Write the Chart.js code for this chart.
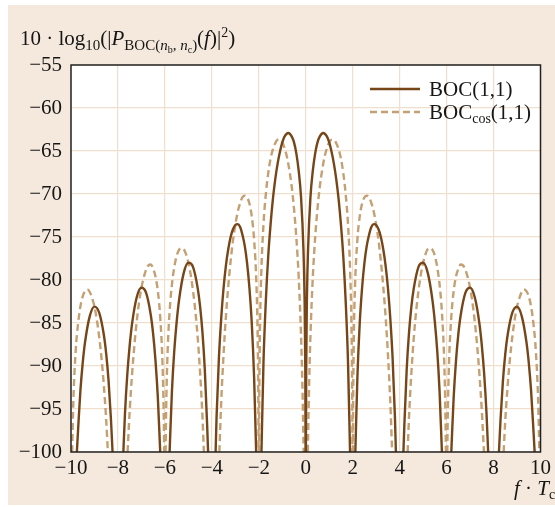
<!DOCTYPE html>
<html>
<head>
<meta charset="utf-8">
<script src="https://cdn.jsdelivr.net/npm/chart.js@4.4.1/dist/chart.umd.min.js"></script>
<style>
  html, body { margin: 0; padding: 0; background: #ffffff; }
</style>
</head>
<body>
<canvas id="psdChart" width="555" height="507"></canvas>
<script>
// f·Tc positions of the BOC(1,1) curve (a null power = gap between lobes)
const bocFreq = [
  -9.75, -9.7, -9.6, -9.5, -9.4, -9.2, -9.0, -8.8, -8.6, -8.5, -8.4, -8.3, -8.23, -8,
  -7.77, -7.7, -7.6, -7.5, -7.4, -7.2, -7.0, -6.8, -6.6, -6.5, -6.4, -6.3, -6.2, -6,
  -5.8, -5.7, -5.6, -5.5, -5.4, -5.2, -5.0, -4.8, -4.6, -4.5, -4.4, -4.3, -4.2, -4.16, -4,
  -3.84, -3.8, -3.7, -3.6, -3.5, -3.4, -3.3, -3.2, -3.1, -3.0, -2.9, -2.8, -2.7, -2.6, -2.5, -2.4, -2.3, -2.2, -2.113, -2,
  -1.887, -1.8, -1.7, -1.6, -1.5, -1.4, -1.3, -1.2, -1.1, -1.0, -0.9, -0.74, -0.6, -0.5, -0.4, -0.3, -0.2, -0.1, -0.05, -0.02, -0.007, 0,
  0.007, 0.02, 0.05, 0.1, 0.2, 0.3, 0.4, 0.5, 0.6, 0.74, 0.9, 1.0, 1.1, 1.2, 1.3, 1.4, 1.5, 1.6, 1.7, 1.8, 1.887, 2,
  2.113, 2.2, 2.3, 2.4, 2.5, 2.6, 2.7, 2.8, 2.9, 3.0, 3.1, 3.2, 3.3, 3.4, 3.5, 3.6, 3.7, 3.8, 3.84, 4,
  4.16, 4.2, 4.3, 4.4, 4.5, 4.6, 4.8, 5.0, 5.2, 5.4, 5.5, 5.6, 5.7, 5.8, 6,
  6.2, 6.3, 6.4, 6.5, 6.6, 6.8, 7.0, 7.2, 7.4, 7.5, 7.6, 7.7, 7.77, 8,
  8.23, 8.3, 8.4, 8.5, 8.6, 8.8, 9.0, 9.2, 9.4, 9.5, 9.6, 9.7, 9.75
];
const bocPower = [
  -100, -97.5, -92.9, -89.6, -87.2, -84.2, -83.1, -83.8, -86.4, -88.6, -91.7, -96.1, -100, null,
  -100, -95.5, -90.9, -87.6, -85.1, -82.0, -80.9, -81.5, -84.1, -86.3, -89.4, -93.7, -100, null,
  -100, -92.9, -88.2, -84.9, -82.4, -79.2, -78.0, -78.5, -81.0, -83.1, -86.1, -90.4, -96.9, -100, null,
  -100, -96.0, -89.1, -84.4, -80.9, -78.3, -76.4, -75.0, -74.1, -73.6, -73.5, -73.8, -74.7, -76.0, -78.0, -80.9, -85.0, -91.3, -100, null,
  -100, -89.5, -82.4, -77.3, -73.6, -70.6, -68.3, -66.5, -65.1, -64.0, -63.3, -62.9, -63.3, -64.0, -65.3, -67.3, -70.4, -76.3, -82.2, -90.2, -100, null,
  -100, -90.2, -82.2, -76.3, -70.4, -67.3, -65.3, -64.0, -63.3, -62.9, -63.3, -64.0, -65.1, -66.5, -68.3, -70.6, -73.6, -77.3, -82.4, -89.5, -100, null,
  -100, -91.3, -85.0, -80.9, -78.0, -76.0, -74.7, -73.8, -73.5, -73.6, -74.1, -75.0, -76.4, -78.3, -80.9, -84.4, -89.1, -96.0, -100, null,
  -100, -96.9, -90.4, -86.1, -83.1, -81.0, -78.5, -78.0, -79.2, -82.4, -84.9, -88.2, -92.9, -100, null,
  -100, -93.7, -89.4, -86.3, -84.1, -81.5, -80.9, -82.0, -85.1, -87.6, -90.9, -95.5, -100, null,
  -100, -96.1, -91.7, -88.6, -86.4, -83.8, -83.1, -84.2, -87.2, -89.6, -92.9, -97.5, -100
];

// f·Tc positions of the BOCcos(1,1) curve
const bocCosFreq = [
  -9.95, -9.9, -9.8, -9.7, -9.6, -9.5, -9.4, -9.3, -9.2, -9.1, -9.0, -8.9, -8.8, -8.7, -8.6, -8.5, -8.43, -8,
  -7.59, -7.5, -7.4, -7.3, -7.2, -7.1, -7.0, -6.9, -6.8, -6.7, -6.6, -6.5, -6.4, -6.3, -6.2, -6.1, -6.05, -6.03, -6,
  -5.97, -5.95, -5.9, -5.8, -5.7, -5.6, -5.5, -5.4, -5.3, -5.2, -5.1, -5.0, -4.9, -4.8, -4.7, -4.6, -4.5, -4.4, -4.34, -4,
  -3.68, -3.6, -3.5, -3.4, -3.3, -3.2, -3.1, -3.0, -2.9, -2.8, -2.7, -2.6, -2.5, -2.4, -2.3, -2.2, -2.1, -2.05, -2.02, -2.01, -2,
  -1.99, -1.98, -1.95, -1.9, -1.8, -1.7, -1.6, -1.5, -1.4, -1.3, -1.2, -1.1, -1.0, -0.9, -0.8, -0.7, -0.6, -0.5, -0.4, -0.3, -0.2, -0.15, -0.1, -0.09, 0,
  0.09, 0.1, 0.15, 0.2, 0.3, 0.4, 0.5, 0.6, 0.7, 0.8, 0.9, 1.0, 1.1, 1.2, 1.3, 1.4, 1.5, 1.6, 1.7, 1.8, 1.9, 1.95, 1.98, 1.99, 2,
  2.01, 2.02, 2.05, 2.1, 2.2, 2.3, 2.4, 2.5, 2.6, 2.7, 2.8, 2.9, 3.0, 3.1, 3.2, 3.3, 3.4, 3.5, 3.6, 3.68, 4,
  4.34, 4.4, 4.5, 4.6, 4.7, 4.8, 4.9, 5.0, 5.1, 5.2, 5.3, 5.4, 5.5, 5.6, 5.7, 5.8, 5.9, 5.95, 5.97, 6,
  6.03, 6.05, 6.1, 6.2, 6.3, 6.4, 6.5, 6.6, 6.7, 6.8, 6.9, 7.0, 7.1, 7.2, 7.3, 7.4, 7.5, 7.59, 8,
  8.43, 8.5, 8.6, 8.7, 8.8, 8.9, 9.0, 9.1, 9.2, 9.3, 9.4, 9.5, 9.6, 9.7, 9.8, 9.9, 9.95
];
const bocCosPower = [
  -100, -94.1, -88.2, -85.1, -83.1, -81.9, -81.3, -81.1, -81.4, -82.1, -83.1, -84.6, -86.6, -89.1, -92.3, -96.3, -100, null,
  -100, -95.2, -91.0, -87.6, -84.8, -82.6, -80.9, -79.7, -78.8, -78.3, -78.2, -78.7, -79.6, -81.3, -84.3, -89.9, -95.8, -100, null,
  -100, -95.6, -89.6, -83.7, -80.5, -78.5, -77.2, -76.5, -76.3, -76.4, -77.0, -78.0, -79.4, -81.3, -83.7, -86.8, -90.8, -95.9, -100, null,
  -100, -94.1, -88.6, -84.2, -80.7, -77.8, -75.4, -73.6, -72.1, -71.1, -70.4, -70.2, -70.4, -71.1, -72.6, -75.3, -80.6, -86.4, -94.2, -100, null,
  -100, -94.0, -85.9, -79.7, -73.5, -70.0, -67.6, -65.9, -64.8, -64.1, -63.7, -63.7, -64.0, -64.7, -65.7, -67.2, -69.1, -71.7, -75.1, -79.7, -86.5, -91.4, -98.3, -100, null,
  -100, -98.3, -91.4, -86.5, -79.7, -75.1, -71.7, -69.1, -67.2, -65.7, -64.7, -64.0, -63.7, -63.7, -64.1, -64.8, -65.9, -67.6, -70.0, -73.5, -79.7, -85.9, -94.0, -100, null,
  -100, -94.2, -86.4, -80.6, -75.3, -72.6, -71.1, -70.4, -70.2, -70.4, -71.1, -72.1, -73.6, -75.4, -77.8, -80.7, -84.2, -88.6, -94.1, -100, null,
  -100, -95.9, -90.8, -86.8, -83.7, -81.3, -79.4, -78.0, -77.0, -76.4, -76.3, -76.5, -77.2, -78.5, -80.5, -83.7, -89.6, -95.6, -100, null,
  -100, -95.8, -89.9, -84.3, -81.3, -79.6, -78.7, -78.2, -78.3, -78.8, -79.7, -80.9, -82.6, -84.8, -87.6, -91.0, -95.2, -100, null,
  -100, -96.3, -92.3, -89.1, -86.6, -84.6, -83.1, -82.1, -81.4, -81.1, -81.3, -81.9, -83.1, -85.1, -88.2, -94.1, -100
];

const xTicks = [-10, -8, -6, -4, -2, 0, 2, 4, 6, 8, 10];
const yTicks = [-100, -95, -90, -85, -80, -75, -70, -65, -60, -55];

const SERIF = '"Liberation Serif", "DejaVu Serif", serif';
const TEXT = '#161616';
const BOC_COLOR = '#764619';
const COS_COLOR = '#c4a174';

const toPoints = (xs, ys) => xs.map((x, i) => ({ x: x, y: ys[i] }));
const minus = v => (v < 0 ? '\u2212' + Math.abs(v) : String(v));

// draw text made of pieces (sub/superscripts, italics)
function drawRich(ctx, x, y, parts) {
  parts.forEach(p => {
    ctx.font = (p.it ? 'italic ' : '') + p.size + 'px ' + SERIF;
    ctx.fillText(p.t, x, y + (p.dy || 0));
    x += ctx.measureText(p.t).width;
  });
  return x;
}

const decorPlugin = {
  id: 'decor',
  beforeDraw(chart) {
    const { ctx, chartArea: a } = chart;
    ctx.save();
    ctx.fillStyle = '#ffffff';
    ctx.fillRect(0, 0, chart.width, chart.height);
    ctx.fillStyle = '#f4e9dc';
    ctx.fillRect(8, 5, chart.width - 8, chart.height - 7);
    ctx.fillStyle = '#ffffff';
    ctx.fillRect(a.left, a.top, a.right - a.left, a.bottom - a.top);
    ctx.restore();
  },
  afterDraw(chart) {
    const { ctx, chartArea: a } = chart;
    ctx.save();
    // frame
    ctx.strokeStyle = '#222222';
    ctx.lineWidth = 1.5;
    ctx.strokeRect(a.left, a.top, a.right - a.left, a.bottom - a.top);

    ctx.fillStyle = TEXT;
    ctx.textBaseline = 'alphabetic';
    ctx.textAlign = 'left';
    // y axis title
    drawRich(ctx, 20, 45, [
      { t: '10 \u00b7 log', size: 21 },
      { t: '10', size: 15, dy: 5 },
      { t: '(|', size: 21 },
      { t: 'P', size: 21, it: true },
      { t: 'BOC(', size: 15, dy: 5 },
      { t: 'n', size: 15, it: true, dy: 5 },
      { t: 'b', size: 10, dy: 8 },
      { t: ', ', size: 15, dy: 5 },
      { t: 'n', size: 15, it: true, dy: 5 },
      { t: 'c', size: 10, dy: 8 },
      { t: ')', size: 15, dy: 5 },
      { t: '(', size: 21 },
      { t: 'f', size: 21, it: true },
      { t: ')|', size: 21 },
      { t: '2', size: 14, dy: -8 },
      { t: ')', size: 21 }
    ]);
    // x axis title
    drawRich(ctx, 514, 495, [
      { t: 'f', size: 21, it: true },
      { t: ' \u00b7 ', size: 21 },
      { t: 'T', size: 21, it: true },
      { t: 'c', size: 14, dy: 4 }
    ]);

    // legend
    const ds = chart.data.datasets;
    const rows = [
      { y: 89, parts: [{ t: 'BOC(1,1)', size: 21 }] },
      { y: 112, parts: [{ t: 'BOC', size: 21 }, { t: 'cos', size: 14, dy: 4 }, { t: '(1,1)', size: 21 }] }
    ];
    rows.forEach((r, i) => {
      ctx.strokeStyle = ds[i].borderColor;
      ctx.lineWidth = ds[i].borderWidth;
      ctx.setLineDash(ds[i].borderDash || []);
      ctx.beginPath();
      ctx.moveTo(370, r.y);
      ctx.lineTo(420, r.y);
      ctx.stroke();
      ctx.setLineDash([]);
      ctx.fillStyle = TEXT;
      drawRich(ctx, 429, r.y + 7, r.parts);
    });
    ctx.restore();
  }
};

const tickFont = { family: SERIF, size: 21 };

new Chart(document.getElementById('psdChart').getContext('2d'), {
  type: 'line',
  data: {
    datasets: [{
      label: 'BOC(1,1)',
      data: toPoints(bocFreq, bocPower),
      borderColor: BOC_COLOR,
      borderWidth: 2.4,
      pointRadius: 0,
      cubicInterpolationMode: 'monotone',
      spanGaps: false
    }, {
      label: 'BOCcos(1,1)',
      data: toPoints(bocCosFreq, bocCosPower),
      borderColor: COS_COLOR,
      borderWidth: 2.4,
      borderDash: [7, 4],
      pointRadius: 0,
      cubicInterpolationMode: 'monotone',
      spanGaps: false
    }]
  },
  options: {
    responsive: false,
    animation: false,
    layout: { padding: { top: 65, right: 12, left: 0, bottom: 0 } },
    plugins: { legend: { display: false }, tooltip: { enabled: false } },
    scales: {
      x: {
        type: 'linear',
        min: -10,
        max: 10,
        afterBuildTicks: s => { s.ticks = xTicks.map(v => ({ value: v })); },
        afterFit: s => { s.height = 55; },
        ticks: { callback: minus, font: tickFont, color: TEXT, padding: 4, maxRotation: 0, autoSkip: false },
        grid: { color: '#efdfcc', lineWidth: 1.2, drawTicks: false },
        border: { display: false }
      },
      y: {
        type: 'linear',
        min: -100,
        max: -55,
        afterBuildTicks: s => { s.ticks = yTicks.map(v => ({ value: v })); },
        afterFit: s => { s.width = 71; },
        ticks: { callback: minus, font: tickFont, color: TEXT, padding: 9, autoSkip: false },
        grid: { color: '#efdfcc', lineWidth: 1.2, drawTicks: false },
        border: { display: false }
      }
    }
  },
  plugins: [decorPlugin]
});
</script>
</body>
</html>
